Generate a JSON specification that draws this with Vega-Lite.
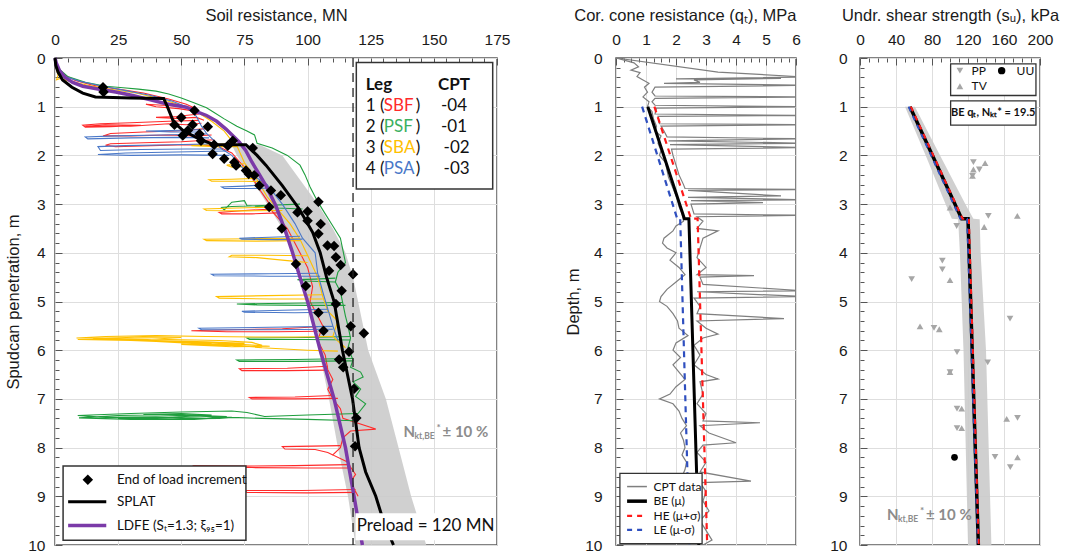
{
"$schema": "https://vega.github.io/schema/vega-lite/v6.json",
"padding": {"left": 5, "top": 6, "right": 5, "bottom": 5},
"config": {
  "view": {"stroke": "#5a5a5a", "strokeWidth": 1.5},
  "font": "Liberation Sans",
  "axis": {"labelFont": "Liberation Sans", "titleFont": "Liberation Sans", "labelFontSize": 15.5, "titleFontSize": 16.5, "titleFontWeight": "normal", "labelColor": "#1a1a1a", "titleColor": "#1a1a1a", "domain": false, "gridColor": "#dedede", "tickColor": "#555555", "labelFlush": false, "labelOverlap": false, "tickCount": 1000}
},
"resolve": {"scale": {"color": "independent", "shape": "independent"}},
"datasets": {
  "traces": [
    {"l":"SBF","s":"R0","x":0,"d":0},{"l":"SBF","s":"R0","x":1,"d":0.2},{"l":"SBF","s":"R0","x":3,"d":0.33},{"l":"SBF","s":"R0","x":8,"d":0.46},{"l":"SBF","s":"R0","x":15,"d":0.56},{"l":"SBF","s":"R0","x":25,"d":0.64},{"l":"SBF","s":"R0","x":35,"d":0.72},{"l":"SBF","s":"R0","x":45,"d":0.84},{"l":"SBF","s":"R0","x":52,"d":0.95},{"l":"SBF","s":"R0","x":55,"d":1.02},
    {"l":"SBF","s":"R1","x":55,"d":1.02},{"l":"SBF","s":"R1","x":46,"d":0.98},{"l":"SBF","s":"R1","x":36,"d":0.95},{"l":"SBF","s":"R1","x":40,"d":1.0},{"l":"SBF","s":"R1","x":49,"d":1.04},{"l":"SBF","s":"R1","x":54,"d":1.08},{"l":"SBF","s":"R1","x":57,"d":1.12},
    {"l":"SBF","s":"R2","x":57,"d":1.15},{"l":"SBF","s":"R2","x":48,"d":1.2},{"l":"SBF","s":"R2","x":40,"d":1.22},{"l":"SBF","s":"R2","x":48,"d":1.24},{"l":"SBF","s":"R2","x":56,"d":1.22},{"l":"SBF","s":"R2","x":59,"d":1.28},
    {"l":"SBF","s":"R3","x":57,"d":1.28},{"l":"SBF","s":"R3","x":45,"d":1.3},{"l":"SBF","s":"R3","x":30,"d":1.33},{"l":"SBF","s":"R3","x":18,"d":1.35},{"l":"SBF","s":"R3","x":11,"d":1.38},{"l":"SBF","s":"R3","x":12,"d":1.42},{"l":"SBF","s":"R3","x":22,"d":1.41},{"l":"SBF","s":"R3","x":34,"d":1.38},{"l":"SBF","s":"R3","x":20,"d":1.37},{"l":"SBF","s":"R3","x":12,"d":1.4},{"l":"SBF","s":"R3","x":30,"d":1.4},{"l":"SBF","s":"R3","x":45,"d":1.35},{"l":"SBF","s":"R3","x":52,"d":1.37},{"l":"SBF","s":"R3","x":58,"d":1.34},
    {"l":"SBF","s":"R4","x":60,"d":1.45},{"l":"SBF","s":"R4","x":48,"d":1.5},{"l":"SBF","s":"R4","x":35,"d":1.52},{"l":"SBF","s":"R4","x":22,"d":1.55},{"l":"SBF","s":"R4","x":19,"d":1.6},{"l":"SBF","s":"R4","x":30,"d":1.6},{"l":"SBF","s":"R4","x":45,"d":1.58},{"l":"SBF","s":"R4","x":55,"d":1.6},{"l":"SBF","s":"R4","x":62,"d":1.58},
    {"l":"SBF","s":"R5","x":63,"d":1.68},{"l":"SBF","s":"R5","x":50,"d":1.72},{"l":"SBF","s":"R5","x":35,"d":1.74},{"l":"SBF","s":"R5","x":22,"d":1.76},{"l":"SBF","s":"R5","x":20,"d":1.79},{"l":"SBF","s":"R5","x":24,"d":1.82},{"l":"SBF","s":"R5","x":38,"d":1.8},{"l":"SBF","s":"R5","x":52,"d":1.78},{"l":"SBF","s":"R5","x":64,"d":1.8},
    {"l":"SBF","s":"R6","x":64,"d":1.8},{"l":"SBF","s":"R6","x":70,"d":1.95},{"l":"SBF","s":"R6","x":76,"d":2.3},{"l":"SBF","s":"R6","x":81,"d":2.7},{"l":"SBF","s":"R6","x":85,"d":3.0},{"l":"SBF","s":"R6","x":86,"d":3.15},{"l":"SBF","s":"R6","x":92,"d":3.5},{"l":"SBF","s":"R6","x":96,"d":3.9},{"l":"SBF","s":"R6","x":100,"d":4.3},{"l":"SBF","s":"R6","x":102,"d":4.7},{"l":"SBF","s":"R6","x":101,"d":5.0},{"l":"SBF","s":"R6","x":104,"d":5.3},{"l":"SBF","s":"R6","x":106,"d":5.5},{"l":"SBF","s":"R6","x":104,"d":5.8},{"l":"SBF","s":"R6","x":107,"d":6.1},{"l":"SBF","s":"R6","x":108,"d":6.4},{"l":"SBF","s":"R6","x":110,"d":6.6},{"l":"SBF","s":"R6","x":108,"d":6.8},{"l":"SBF","s":"R6","x":110,"d":7.0},{"l":"SBF","s":"R6","x":113,"d":7.2},{"l":"SBF","s":"R6","x":114,"d":7.4},{"l":"SBF","s":"R6","x":127,"d":7.62},{"l":"SBF","s":"R6","x":117,"d":7.66},{"l":"SBF","s":"R6","x":114,"d":7.8},{"l":"SBF","s":"R6","x":113,"d":8.0},{"l":"SBF","s":"R6","x":110,"d":8.15},{"l":"SBF","s":"R6","x":116,"d":8.3},{"l":"SBF","s":"R6","x":117,"d":8.4},{"l":"SBF","s":"R6","x":119,"d":8.55},{"l":"SBF","s":"R6","x":117,"d":8.7},{"l":"SBF","s":"R6","x":119,"d":8.9},{"l":"SBF","s":"R6","x":120,"d":9.0},
    {"l":"SBF","s":"R7","x":86,"d":3.1},{"l":"SBF","s":"R7","x":75,"d":3.13},{"l":"SBF","s":"R7","x":65,"d":3.17},{"l":"SBF","s":"R7","x":66,"d":3.2},{"l":"SBF","s":"R7","x":78,"d":3.2},{"l":"SBF","s":"R7","x":88,"d":3.18},
    {"l":"SBF","s":"R8","x":104,"d":5.52},{"l":"SBF","s":"R8","x":90,"d":5.56},{"l":"SBF","s":"R8","x":70,"d":5.58},{"l":"SBF","s":"R8","x":54,"d":5.6},{"l":"SBF","s":"R8","x":68,"d":5.62},{"l":"SBF","s":"R8","x":88,"d":5.62},{"l":"SBF","s":"R8","x":104,"d":5.61},
    {"l":"SBF","s":"R9","x":108,"d":6.33},{"l":"SBF","s":"R9","x":92,"d":6.37},{"l":"SBF","s":"R9","x":73,"d":6.38},{"l":"SBF","s":"R9","x":74,"d":6.42},{"l":"SBF","s":"R9","x":92,"d":6.42},{"l":"SBF","s":"R9","x":108,"d":6.41},
    {"l":"SBF","s":"R10","x":110,"d":6.93},{"l":"SBF","s":"R10","x":95,"d":6.96},{"l":"SBF","s":"R10","x":77,"d":6.97},{"l":"SBF","s":"R10","x":78,"d":7.0},{"l":"SBF","s":"R10","x":95,"d":7.0},{"l":"SBF","s":"R10","x":112,"d":6.99},
    {"l":"SBF","s":"R11","x":113,"d":7.96},{"l":"SBF","s":"R11","x":102,"d":7.97},{"l":"SBF","s":"R11","x":90,"d":7.98},{"l":"SBF","s":"R11","x":91,"d":8.03},{"l":"SBF","s":"R11","x":103,"d":8.04},{"l":"SBF","s":"R11","x":108,"d":8.1},{"l":"SBF","s":"R11","x":110,"d":8.15},
    {"l":"SBF","s":"R12","x":116,"d":8.35},{"l":"SBF","s":"R12","x":95,"d":8.37},{"l":"SBF","s":"R12","x":75,"d":8.38},{"l":"SBF","s":"R12","x":55,"d":8.37},{"l":"SBF","s":"R12","x":56,"d":8.4},{"l":"SBF","s":"R12","x":78,"d":8.41},{"l":"SBF","s":"R12","x":100,"d":8.42},{"l":"SBF","s":"R12","x":117,"d":8.42},
    {"l":"SBF","s":"R13","x":119,"d":8.86},{"l":"SBF","s":"R13","x":98,"d":8.88},{"l":"SBF","s":"R13","x":75,"d":8.88},{"l":"SBF","s":"R13","x":76,"d":8.92},{"l":"SBF","s":"R13","x":100,"d":8.93},{"l":"SBF","s":"R13","x":119,"d":8.92},
    {"l":"PSF","s":"G0","x":0,"d":0},{"l":"PSF","s":"G0","x":1.5,"d":0.22},{"l":"PSF","s":"G0","x":5,"d":0.38},{"l":"PSF","s":"G0","x":12,"d":0.5},{"l":"PSF","s":"G0","x":20,"d":0.58},{"l":"PSF","s":"G0","x":27,"d":0.61},{"l":"PSF","s":"G0","x":33,"d":0.64},{"l":"PSF","s":"G0","x":40,"d":0.68},{"l":"PSF","s":"G0","x":45,"d":0.74},{"l":"PSF","s":"G0","x":50,"d":0.82},{"l":"PSF","s":"G0","x":55,"d":0.92},{"l":"PSF","s":"G0","x":60,"d":1.02},{"l":"PSF","s":"G0","x":63,"d":1.12},{"l":"PSF","s":"G0","x":67,"d":1.25},{"l":"PSF","s":"G0","x":72,"d":1.4},{"l":"PSF","s":"G0","x":76,"d":1.5},{"l":"PSF","s":"G0","x":79,"d":1.58},{"l":"PSF","s":"G0","x":80,"d":1.75},{"l":"PSF","s":"G0","x":86,"d":1.85},{"l":"PSF","s":"G0","x":92,"d":2.0},{"l":"PSF","s":"G0","x":97,"d":2.2},{"l":"PSF","s":"G0","x":99,"d":2.4},{"l":"PSF","s":"G0","x":101,"d":2.65},{"l":"PSF","s":"G0","x":104,"d":2.95},{"l":"PSF","s":"G0","x":107,"d":3.2},{"l":"PSF","s":"G0","x":110,"d":3.45},{"l":"PSF","s":"G0","x":113,"d":3.7},{"l":"PSF","s":"G0","x":114,"d":3.95},{"l":"PSF","s":"G0","x":115,"d":4.2},{"l":"PSF","s":"G0","x":112,"d":4.4},{"l":"PSF","s":"G0","x":111,"d":4.6},{"l":"PSF","s":"G0","x":113,"d":4.8},{"l":"PSF","s":"G0","x":114,"d":5.05},{"l":"PSF","s":"G0","x":115,"d":5.3},{"l":"PSF","s":"G0","x":116,"d":5.5},{"l":"PSF","s":"G0","x":117,"d":5.75},{"l":"PSF","s":"G0","x":116,"d":5.95},{"l":"PSF","s":"G0","x":118,"d":6.2},{"l":"PSF","s":"G0","x":117,"d":6.35},{"l":"PSF","s":"G0","x":121,"d":6.45},{"l":"PSF","s":"G0","x":122,"d":6.55},{"l":"PSF","s":"G0","x":118,"d":6.65},{"l":"PSF","s":"G0","x":121,"d":6.8},{"l":"PSF","s":"G0","x":119,"d":6.95},{"l":"PSF","s":"G0","x":123,"d":7.1},{"l":"PSF","s":"G0","x":120,"d":7.3},
    {"l":"PSF","s":"G1","x":97,"d":3.0},{"l":"PSF","s":"G1","x":82,"d":3.03},{"l":"PSF","s":"G1","x":70,"d":3.05},{"l":"PSF","s":"G1","x":66,"d":3.07},{"l":"PSF","s":"G1","x":67,"d":3.12},{"l":"PSF","s":"G1","x":70,"d":2.96},{"l":"PSF","s":"G1","x":75,"d":2.93},{"l":"PSF","s":"G1","x":76,"d":3.03},{"l":"PSF","s":"G1","x":88,"d":3.08},{"l":"PSF","s":"G1","x":98,"d":3.1},
    {"l":"PSF","s":"G2","x":111,"d":4.52},{"l":"PSF","s":"G2","x":103,"d":4.54},{"l":"PSF","s":"G2","x":96,"d":4.55},{"l":"PSF","s":"G2","x":99,"d":4.58},{"l":"PSF","s":"G2","x":111,"d":4.6},
    {"l":"PSF","s":"G3","x":114,"d":5.02},{"l":"PSF","s":"G3","x":100,"d":5.03},{"l":"PSF","s":"G3","x":85,"d":5.04},{"l":"PSF","s":"G3","x":72,"d":5.05},{"l":"PSF","s":"G3","x":80,"d":5.07},{"l":"PSF","s":"G3","x":100,"d":5.08},{"l":"PSF","s":"G3","x":115,"d":5.08},
    {"l":"PSF","s":"G4","x":117,"d":5.72},{"l":"PSF","s":"G4","x":100,"d":5.74},{"l":"PSF","s":"G4","x":76,"d":5.75},{"l":"PSF","s":"G4","x":77,"d":5.78},{"l":"PSF","s":"G4","x":100,"d":5.78},{"l":"PSF","s":"G4","x":117,"d":5.79},
    {"l":"PSF","s":"G5","x":118,"d":6.17},{"l":"PSF","s":"G5","x":95,"d":6.19},{"l":"PSF","s":"G5","x":72,"d":6.2},{"l":"PSF","s":"G5","x":73,"d":6.23},{"l":"PSF","s":"G5","x":95,"d":6.23},{"l":"PSF","s":"G5","x":118,"d":6.22},
    {"l":"PSF","s":"G6","x":120,"d":7.3},{"l":"PSF","s":"G6","x":100,"d":7.33},{"l":"PSF","s":"G6","x":83,"d":7.36},{"l":"PSF","s":"G6","x":76,"d":7.28},{"l":"PSF","s":"G6","x":70,"d":7.25},{"l":"PSF","s":"G6","x":50,"d":7.27},{"l":"PSF","s":"G6","x":30,"d":7.3},{"l":"PSF","s":"G6","x":9,"d":7.34},{"l":"PSF","s":"G6","x":20,"d":7.38},{"l":"PSF","s":"G6","x":40,"d":7.37},{"l":"PSF","s":"G6","x":60,"d":7.4},{"l":"PSF","s":"G6","x":68,"d":7.36},{"l":"PSF","s":"G6","x":48,"d":7.32},{"l":"PSF","s":"G6","x":25,"d":7.34},{"l":"PSF","s":"G6","x":9.5,"d":7.39},{"l":"PSF","s":"G6","x":30,"d":7.42},{"l":"PSF","s":"G6","x":55,"d":7.42},{"l":"PSF","s":"G6","x":70,"d":7.38},{"l":"PSF","s":"G6","x":55,"d":7.35},{"l":"PSF","s":"G6","x":35,"d":7.32},{"l":"PSF","s":"G6","x":50,"d":7.3},{"l":"PSF","s":"G6","x":62,"d":7.33},{"l":"PSF","s":"G6","x":45,"d":7.38},{"l":"PSF","s":"G6","x":25,"d":7.4},{"l":"PSF","s":"G6","x":45,"d":7.41},{"l":"PSF","s":"G6","x":65,"d":7.4},{"l":"PSF","s":"G6","x":70,"d":7.38},{"l":"PSF","s":"G6","x":82,"d":7.4},{"l":"PSF","s":"G6","x":100,"d":7.42},{"l":"PSF","s":"G6","x":119,"d":7.45},
    {"l":"SBA","s":"Y0","x":0,"d":0},{"l":"SBA","s":"Y0","x":0.5,"d":0.22},{"l":"SBA","s":"Y0","x":1.2,"d":0.35},{"l":"SBA","s":"Y0","x":0.6,"d":0.45},{"l":"SBA","s":"Y0","x":2,"d":0.42},{"l":"SBA","s":"Y0","x":6,"d":0.48},{"l":"SBA","s":"Y0","x":13,"d":0.56},{"l":"SBA","s":"Y0","x":22,"d":0.64},{"l":"SBA","s":"Y0","x":32,"d":0.72},{"l":"SBA","s":"Y0","x":42,"d":0.84},{"l":"SBA","s":"Y0","x":50,"d":0.97},{"l":"SBA","s":"Y0","x":56,"d":1.1},{"l":"SBA","s":"Y0","x":62,"d":1.3},{"l":"SBA","s":"Y0","x":67,"d":1.5},{"l":"SBA","s":"Y0","x":70,"d":1.7},{"l":"SBA","s":"Y0","x":72,"d":1.8},{"l":"SBA","s":"Y0","x":75,"d":2.15},{"l":"SBA","s":"Y0","x":80,"d":2.5},{"l":"SBA","s":"Y0","x":84,"d":2.85},{"l":"SBA","s":"Y0","x":88,"d":3.1},{"l":"SBA","s":"Y0","x":93,"d":3.4},{"l":"SBA","s":"Y0","x":97,"d":3.72},{"l":"SBA","s":"Y0","x":100,"d":4.05},{"l":"SBA","s":"Y0","x":104,"d":4.5},{"l":"SBA","s":"Y0","x":106,"d":4.9},{"l":"SBA","s":"Y0","x":108,"d":5.2},{"l":"SBA","s":"Y0","x":112,"d":5.4},{"l":"SBA","s":"Y0","x":110,"d":5.72},{"l":"SBA","s":"Y0","x":115,"d":5.95},
    {"l":"SBA","s":"Y1","x":70,"d":1.76},{"l":"SBA","s":"Y1","x":60,"d":1.78},{"l":"SBA","s":"Y1","x":54,"d":1.8},{"l":"SBA","s":"Y1","x":64,"d":1.82},{"l":"SBA","s":"Y1","x":72,"d":1.82},
    {"l":"SBA","s":"Y2","x":75,"d":2.17},{"l":"SBA","s":"Y2","x":68,"d":2.2},{"l":"SBA","s":"Y2","x":70,"d":2.24},{"l":"SBA","s":"Y2","x":76,"d":2.23},
    {"l":"SBA","s":"Y3","x":80,"d":2.47},{"l":"SBA","s":"Y3","x":70,"d":2.49},{"l":"SBA","s":"Y3","x":61,"d":2.5},{"l":"SBA","s":"Y3","x":62,"d":2.53},{"l":"SBA","s":"Y3","x":74,"d":2.53},{"l":"SBA","s":"Y3","x":82,"d":2.54},
    {"l":"SBA","s":"Y4","x":88,"d":3.06},{"l":"SBA","s":"Y4","x":72,"d":3.08},{"l":"SBA","s":"Y4","x":59,"d":3.1},{"l":"SBA","s":"Y4","x":60,"d":3.13},{"l":"SBA","s":"Y4","x":75,"d":3.14},{"l":"SBA","s":"Y4","x":90,"d":3.13},
    {"l":"SBA","s":"Y5","x":97,"d":3.7},{"l":"SBA","s":"Y5","x":78,"d":3.71},{"l":"SBA","s":"Y5","x":59,"d":3.72},{"l":"SBA","s":"Y5","x":60,"d":3.75},{"l":"SBA","s":"Y5","x":80,"d":3.76},{"l":"SBA","s":"Y5","x":97,"d":3.75},
    {"l":"SBA","s":"Y6","x":100,"d":4.06},{"l":"SBA","s":"Y6","x":84,"d":4.05},{"l":"SBA","s":"Y6","x":70,"d":4.05},{"l":"SBA","s":"Y6","x":69,"d":4.08},{"l":"SBA","s":"Y6","x":80,"d":4.1},{"l":"SBA","s":"Y6","x":92,"d":4.16},{"l":"SBA","s":"Y6","x":100,"d":4.2},
    {"l":"SBA","s":"Y7","x":106,"d":4.86},{"l":"SBA","s":"Y7","x":84,"d":4.88},{"l":"SBA","s":"Y7","x":64,"d":4.9},{"l":"SBA","s":"Y7","x":65,"d":4.93},{"l":"SBA","s":"Y7","x":85,"d":4.95},{"l":"SBA","s":"Y7","x":106,"d":4.95},
    {"l":"SBA","s":"Y8","x":110,"d":5.72},{"l":"SBA","s":"Y8","x":95,"d":5.73},{"l":"SBA","s":"Y8","x":80,"d":5.73},{"l":"SBA","s":"Y8","x":60,"d":5.72},{"l":"SBA","s":"Y8","x":40,"d":5.7},{"l":"SBA","s":"Y8","x":20,"d":5.72},{"l":"SBA","s":"Y8","x":8.5,"d":5.75},{"l":"SBA","s":"Y8","x":25,"d":5.76},{"l":"SBA","s":"Y8","x":45,"d":5.78},{"l":"SBA","s":"Y8","x":65,"d":5.8},{"l":"SBA","s":"Y8","x":78,"d":5.84},{"l":"SBA","s":"Y8","x":82,"d":5.9},{"l":"SBA","s":"Y8","x":62,"d":5.88},{"l":"SBA","s":"Y8","x":40,"d":5.82},{"l":"SBA","s":"Y8","x":20,"d":5.78},{"l":"SBA","s":"Y8","x":9,"d":5.78},{"l":"SBA","s":"Y8","x":30,"d":5.8},{"l":"SBA","s":"Y8","x":50,"d":5.74},{"l":"SBA","s":"Y8","x":35,"d":5.73},{"l":"SBA","s":"Y8","x":15,"d":5.76},{"l":"SBA","s":"Y8","x":40,"d":5.8},{"l":"SBA","s":"Y8","x":60,"d":5.83},{"l":"SBA","s":"Y8","x":75,"d":5.86},{"l":"SBA","s":"Y8","x":50,"d":5.84},{"l":"SBA","s":"Y8","x":30,"d":5.8},{"l":"SBA","s":"Y8","x":45,"d":5.82},{"l":"SBA","s":"Y8","x":70,"d":5.87},{"l":"SBA","s":"Y8","x":85,"d":5.92},{"l":"SBA","s":"Y8","x":70,"d":5.93},{"l":"SBA","s":"Y8","x":50,"d":5.88},{"l":"SBA","s":"Y8","x":70,"d":5.9},{"l":"SBA","s":"Y8","x":82,"d":5.95},{"l":"SBA","s":"Y8","x":100,"d":6.0},{"l":"SBA","s":"Y8","x":112,"d":6.02},
    {"l":"PSA","s":"B0","x":0,"d":0},{"l":"PSA","s":"B0","x":1,"d":0.24},{"l":"PSA","s":"B0","x":4,"d":0.38},{"l":"PSA","s":"B0","x":10,"d":0.48},{"l":"PSA","s":"B0","x":18,"d":0.57},{"l":"PSA","s":"B0","x":28,"d":0.67},{"l":"PSA","s":"B0","x":38,"d":0.77},{"l":"PSA","s":"B0","x":46,"d":0.88},{"l":"PSA","s":"B0","x":52,"d":1.0},{"l":"PSA","s":"B0","x":56,"d":1.2},{"l":"PSA","s":"B0","x":58,"d":1.4},{"l":"PSA","s":"B0","x":60,"d":1.55},{"l":"PSA","s":"B0","x":64,"d":1.75},{"l":"PSA","s":"B0","x":66,"d":1.87},{"l":"PSA","s":"B0","x":70,"d":2.0},{"l":"PSA","s":"B0","x":75,"d":2.3},{"l":"PSA","s":"B0","x":84,"d":2.6},{"l":"PSA","s":"B0","x":90,"d":3.0},{"l":"PSA","s":"B0","x":95,"d":3.4},{"l":"PSA","s":"B0","x":98,"d":3.7},{"l":"PSA","s":"B0","x":103,"d":4.0},{"l":"PSA","s":"B0","x":104,"d":4.42},{"l":"PSA","s":"B0","x":106,"d":4.8},{"l":"PSA","s":"B0","x":108,"d":5.15},{"l":"PSA","s":"B0","x":110,"d":5.5},{"l":"PSA","s":"B0","x":112,"d":5.8},
    {"l":"PSA","s":"B1","x":58,"d":1.47},{"l":"PSA","s":"B1","x":46,"d":1.49},{"l":"PSA","s":"B1","x":36,"d":1.5},{"l":"PSA","s":"B1","x":46,"d":1.52},{"l":"PSA","s":"B1","x":58,"d":1.52},
    {"l":"PSA","s":"B2","x":60,"d":1.56},{"l":"PSA","s":"B2","x":42,"d":1.58},{"l":"PSA","s":"B2","x":24,"d":1.6},{"l":"PSA","s":"B2","x":12,"d":1.62},{"l":"PSA","s":"B2","x":13,"d":1.66},{"l":"PSA","s":"B2","x":30,"d":1.64},{"l":"PSA","s":"B2","x":48,"d":1.63},{"l":"PSA","s":"B2","x":61,"d":1.64},
    {"l":"PSA","s":"B3","x":64,"d":1.76},{"l":"PSA","s":"B3","x":46,"d":1.78},{"l":"PSA","s":"B3","x":28,"d":1.8},{"l":"PSA","s":"B3","x":17,"d":1.82},{"l":"PSA","s":"B3","x":18,"d":1.9},{"l":"PSA","s":"B3","x":34,"d":1.88},{"l":"PSA","s":"B3","x":52,"d":1.87},{"l":"PSA","s":"B3","x":66,"d":1.87},
    {"l":"PSA","s":"B4","x":68,"d":1.91},{"l":"PSA","s":"B4","x":48,"d":1.93},{"l":"PSA","s":"B4","x":28,"d":1.95},{"l":"PSA","s":"B4","x":17,"d":1.98},{"l":"PSA","s":"B4","x":30,"d":2.0},{"l":"PSA","s":"B4","x":50,"d":1.99},{"l":"PSA","s":"B4","x":69,"d":2.0},
    {"l":"PSA","s":"B5","x":84,"d":2.6},{"l":"PSA","s":"B5","x":75,"d":2.63},{"l":"PSA","s":"B5","x":66,"d":2.65},{"l":"PSA","s":"B5","x":67,"d":2.68},{"l":"PSA","s":"B5","x":78,"d":2.68},{"l":"PSA","s":"B5","x":86,"d":2.67},
    {"l":"PSA","s":"B6","x":97,"d":3.66},{"l":"PSA","s":"B6","x":85,"d":3.68},{"l":"PSA","s":"B6","x":73,"d":3.7},{"l":"PSA","s":"B6","x":74,"d":3.72},{"l":"PSA","s":"B6","x":88,"d":3.73},{"l":"PSA","s":"B6","x":98,"d":3.72},
    {"l":"PSA","s":"B7","x":104,"d":4.42},{"l":"PSA","s":"B7","x":85,"d":4.43},{"l":"PSA","s":"B7","x":62,"d":4.44},{"l":"PSA","s":"B7","x":63,"d":4.47},{"l":"PSA","s":"B7","x":85,"d":4.48},{"l":"PSA","s":"B7","x":105,"d":4.48},
    {"l":"PSA","s":"B8","x":108,"d":5.16},{"l":"PSA","s":"B8","x":90,"d":5.18},{"l":"PSA","s":"B8","x":74,"d":5.2},{"l":"PSA","s":"B8","x":75,"d":5.22},{"l":"PSA","s":"B8","x":95,"d":5.23},{"l":"PSA","s":"B8","x":108,"d":5.22},
    {"l":"PSA","s":"B9","x":110,"d":5.51},{"l":"PSA","s":"B9","x":85,"d":5.53},{"l":"PSA","s":"B9","x":57,"d":5.55},{"l":"PSA","s":"B9","x":58,"d":5.58},{"l":"PSA","s":"B9","x":85,"d":5.58},{"l":"PSA","s":"B9","x":110,"d":5.57}
  ],
  "band": [
    {"d":1.78,"x":70,"x2":81},{"d":2.0,"x":72,"x2":90},{"d":2.5,"x":78,"x2":97},{"d":3.0,"x":84,"x2":104},{"d":3.5,"x":90,"x2":110},{"d":4.0,"x":94,"x2":115},{"d":4.5,"x":98,"x2":118},{"d":5.0,"x":100.5,"x2":120},{"d":6.0,"x":104.5,"x2":124},{"d":7.0,"x":108.5,"x2":131},{"d":8.0,"x":112,"x2":136},{"d":9.0,"x":116,"x2":141},{"d":10.0,"x":119,"x2":147}
  ],
  "splat": [
    {"x":0,"d":0},{"x":0.3,"d":0.15},{"x":1.2,"d":0.29},{"x":3,"d":0.45},{"x":6.7,"d":0.6},{"x":11,"d":0.72},{"x":16,"d":0.8},{"x":30,"d":0.82},{"x":43,"d":0.83},{"x":44.5,"d":1.0},{"x":47,"d":1.32},{"x":51,"d":1.5},{"x":57,"d":1.66},{"x":63,"d":1.78},{"x":75.6,"d":1.78},{"x":80,"d":2.0},{"x":83.5,"d":2.2},{"x":90,"d":2.62},{"x":96.7,"d":3.1},{"x":102,"d":3.58},{"x":105,"d":4.0},{"x":107.5,"d":4.5},{"x":110.5,"d":5.0},{"x":113.8,"d":6.0},{"x":117.8,"d":7.0},{"x":120.4,"d":8.0},{"x":123,"d":8.5},{"x":127,"d":9.0},{"x":130,"d":9.5},{"x":134,"d":10}
  ],
  "ldfe": [
    {"x":0,"d":0},{"x":0.5,"d":0.1},{"x":1.8,"d":0.26},{"x":4,"d":0.4},{"x":7,"d":0.5},{"x":11,"d":0.58},{"x":17.6,"d":0.64},{"x":24,"d":0.7},{"x":30.8,"d":0.77},{"x":37,"d":0.85},{"x":44,"d":0.94},{"x":52,"d":1.01},{"x":56,"d":1.1},{"x":60,"d":1.18},{"x":64,"d":1.3},{"x":67.7,"d":1.46},{"x":70.5,"d":1.6},{"x":73,"d":1.73},{"x":75.5,"d":1.9},{"x":78,"d":2.14},{"x":81,"d":2.4},{"x":83.5,"d":2.62},{"x":87.4,"d":3.03},{"x":91.4,"d":3.58},{"x":94,"d":3.99},{"x":97,"d":4.5},{"x":100,"d":5},{"x":105,"d":6},{"x":110.5,"d":7},{"x":115,"d":8},{"x":118.4,"d":9},{"x":121.7,"d":10}
  ],
  "eol": [
    {"x":19,"d":0.6},{"x":19.2,"d":0.7},{"x":55.2,"d":1.08},{"x":50,"d":1.22},{"x":47.3,"d":1.37},{"x":54.5,"d":1.37},{"x":60.5,"d":1.41},{"x":52.6,"d":1.49},{"x":57.2,"d":1.56},{"x":50.6,"d":1.59},{"x":57.8,"d":1.7},{"x":63,"d":1.78},{"x":68.4,"d":1.8},{"x":70.4,"d":1.7},{"x":78.3,"d":1.85},{"x":62.4,"d":1.97},{"x":67,"d":2.07},{"x":71,"d":2.14},{"x":71.7,"d":2.21},{"x":75.6,"d":2.31},{"x":76.7,"d":2.38},{"x":78.9,"d":2.41},{"x":80.9,"d":2.62},{"x":85.5,"d":2.72},{"x":89.4,"d":2.82},{"x":104.3,"d":2.95},{"x":84.8,"d":3.06},{"x":96,"d":3.17},{"x":100,"d":3.15},{"x":100,"d":3.34},{"x":89.8,"d":3.5},{"x":105.2,"d":3.41},{"x":104.3,"d":3.61},{"x":107.9,"d":3.85},{"x":110.5,"d":3.86},{"x":111.2,"d":4.09},{"x":113.1,"d":4.25},{"x":95.4,"d":4.23},{"x":108.5,"d":4.37},{"x":118,"d":4.44},{"x":99.3,"d":4.68},{"x":113.5,"d":4.78},{"x":111.2,"d":5.05},{"x":104.3,"d":5.23},{"x":117.1,"d":5.51},{"x":122.3,"d":5.65},{"x":106.3,"d":5.6},{"x":116.4,"d":6.03},{"x":112.5,"d":6.19},{"x":114.1,"d":6.35},{"x":118.4,"d":6.79},{"x":119.3,"d":7.39},{"x":118.8,"d":7.97}
  ],
  "cpt": [
    {"p":"A","x":0,"d":0},{"p":"A","x":0.3,"d":0.05},{"p":"A","x":0.6,"d":0.1},{"p":"A","x":0.75,"d":0.18},{"p":"A","x":0.5,"d":0.25},{"p":"A","x":0.8,"d":0.3},{"p":"A","x":0.7,"d":0.38},{"p":"A","x":0.9,"d":0.45},{"p":"A","x":1.1,"d":0.52},{"p":"A","x":0.95,"d":0.6},{"p":"A","x":1.05,"d":0.7},{"p":"A","x":0.9,"d":0.8},{"p":"A","x":1.1,"d":0.9},{"p":"A","x":1.05,"d":1.0},{"p":"A","x":1.2,"d":1.1},{"p":"A","x":1.25,"d":1.25},{"p":"A","x":1.35,"d":1.4},{"p":"A","x":1.3,"d":1.5},{"p":"A","x":1.5,"d":1.6},{"p":"A","x":1.4,"d":1.75},{"p":"A","x":1.5,"d":1.9},{"p":"A","x":1.45,"d":2.0},{"p":"A","x":1.65,"d":2.15},{"p":"A","x":1.7,"d":2.3},{"p":"A","x":1.75,"d":2.45},{"p":"A","x":1.85,"d":2.6},{"p":"A","x":1.95,"d":2.75},{"p":"A","x":2.05,"d":2.9},{"p":"A","x":2.1,"d":3.05},{"p":"A","x":2.2,"d":3.2},{"p":"A","x":2.25,"d":3.35},{"p":"A","x":2.0,"d":3.45},{"p":"A","x":1.9,"d":3.55},{"p":"A","x":1.6,"d":3.7},{"p":"A","x":1.55,"d":3.8},{"p":"A","x":1.7,"d":3.9},{"p":"A","x":2.0,"d":4.0},{"p":"A","x":1.8,"d":4.15},{"p":"A","x":2.1,"d":4.3},{"p":"A","x":2.3,"d":4.45},{"p":"A","x":2.0,"d":4.6},{"p":"A","x":1.7,"d":4.75},{"p":"A","x":1.5,"d":4.9},{"p":"A","x":1.45,"d":5.0},{"p":"A","x":1.7,"d":5.1},{"p":"A","x":1.9,"d":5.25},{"p":"A","x":2.05,"d":5.4},{"p":"A","x":2.1,"d":5.55},{"p":"A","x":2.4,"d":5.7},{"p":"A","x":2.0,"d":5.85},{"p":"A","x":1.9,"d":6.0},{"p":"A","x":2.15,"d":6.15},{"p":"A","x":1.9,"d":6.3},{"p":"A","x":2.1,"d":6.45},{"p":"A","x":2.3,"d":6.6},{"p":"A","x":2.0,"d":6.75},{"p":"A","x":1.8,"d":6.9},{"p":"A","x":1.45,"d":7.0},{"p":"A","x":1.9,"d":7.1},{"p":"A","x":2.1,"d":7.25},{"p":"A","x":2.2,"d":7.4},{"p":"A","x":2.35,"d":7.55},{"p":"A","x":2.15,"d":7.7},{"p":"A","x":2.25,"d":7.85},{"p":"A","x":2.3,"d":8.0},{"p":"A","x":2.2,"d":8.15},{"p":"A","x":2.35,"d":8.3},{"p":"A","x":2.3,"d":8.45},{"p":"A","x":2.2,"d":8.6},{"p":"A","x":2.35,"d":8.75},{"p":"A","x":2.4,"d":8.9},{"p":"A","x":2.3,"d":9.05},{"p":"A","x":2.5,"d":9.2},{"p":"A","x":2.45,"d":9.35},{"p":"A","x":2.6,"d":9.5},{"p":"A","x":2.5,"d":9.65},{"p":"A","x":2.55,"d":9.8},{"p":"A","x":2.7,"d":9.95},
    {"p":"B","x":0,"d":0},{"p":"B","x":3.4,"d":0.29},{"p":"B","x":6.3,"d":0.39},{"p":"B","x":2.0,"d":0.43},{"p":"B","x":5.5,"d":0.42},{"p":"B","x":2.6,"d":0.45},{"p":"B","x":2.8,"d":0.5},{"p":"B","x":1.6,"d":0.52},{"p":"B","x":6.3,"d":0.56},{"p":"B","x":1.3,"d":0.6},{"p":"B","x":1.2,"d":0.7},{"p":"B","x":1.3,"d":0.78},{"p":"B","x":6.3,"d":0.8},{"p":"B","x":1.3,"d":0.83},{"p":"B","x":1.2,"d":0.9},{"p":"B","x":1.3,"d":0.97},{"p":"B","x":6.3,"d":1.0},{"p":"B","x":1.35,"d":1.03},{"p":"B","x":1.3,"d":1.15},{"p":"B","x":6.3,"d":1.18},{"p":"B","x":1.4,"d":1.2},{"p":"B","x":1.45,"d":1.35},{"p":"B","x":6.3,"d":1.37},{"p":"B","x":1.5,"d":1.4},{"p":"B","x":1.6,"d":1.5},{"p":"B","x":1.7,"d":1.62},{"p":"B","x":6.3,"d":1.66},{"p":"B","x":1.75,"d":1.7},{"p":"B","x":6.3,"d":1.75},{"p":"B","x":1.8,"d":1.78},{"p":"B","x":6.3,"d":1.84},{"p":"B","x":1.85,"d":1.87},{"p":"B","x":1.9,"d":2.0},{"p":"B","x":2.0,"d":2.2},{"p":"B","x":2.1,"d":2.4},{"p":"B","x":2.25,"d":2.6},{"p":"B","x":2.3,"d":2.68},{"p":"B","x":6.3,"d":2.7},{"p":"B","x":2.4,"d":2.72},{"p":"B","x":5.5,"d":2.83},{"p":"B","x":2.4,"d":2.86},{"p":"B","x":6.3,"d":2.91},{"p":"B","x":2.5,"d":2.93},{"p":"B","x":4.9,"d":2.97},{"p":"B","x":2.5,"d":3.0},{"p":"B","x":2.6,"d":3.2},{"p":"B","x":6.3,"d":3.23},{"p":"B","x":2.7,"d":3.26},{"p":"B","x":2.9,"d":3.35},{"p":"B","x":2.7,"d":3.5},{"p":"B","x":3.4,"d":3.55},{"p":"B","x":2.9,"d":3.7},{"p":"B","x":2.8,"d":3.9},{"p":"B","x":2.7,"d":4.1},{"p":"B","x":3.0,"d":4.3},{"p":"B","x":2.7,"d":4.45},{"p":"B","x":4.6,"d":4.47},{"p":"B","x":2.8,"d":4.5},{"p":"B","x":2.9,"d":4.65},{"p":"B","x":6.3,"d":4.78},{"p":"B","x":2.7,"d":4.8},{"p":"B","x":6.3,"d":4.9},{"p":"B","x":2.6,"d":4.93},{"p":"B","x":2.8,"d":5.1},{"p":"B","x":2.7,"d":5.25},{"p":"B","x":5.6,"d":5.35},{"p":"B","x":2.7,"d":5.4},{"p":"B","x":3.0,"d":5.55},{"p":"B","x":3.4,"d":5.67},{"p":"B","x":2.9,"d":5.75},{"p":"B","x":2.6,"d":5.9},{"p":"B","x":2.8,"d":6.1},{"p":"B","x":2.6,"d":6.3},{"p":"B","x":3.0,"d":6.5},{"p":"B","x":3.4,"d":6.59},{"p":"B","x":2.8,"d":6.65},{"p":"B","x":2.9,"d":6.9},{"p":"B","x":2.7,"d":7.1},{"p":"B","x":3.0,"d":7.3},{"p":"B","x":2.9,"d":7.45},{"p":"B","x":4.8,"d":7.49},{"p":"B","x":2.8,"d":7.55},{"p":"B","x":3.1,"d":7.7},{"p":"B","x":4.0,"d":7.9},{"p":"B","x":2.9,"d":7.95},{"p":"B","x":2.7,"d":8.1},{"p":"B","x":3.0,"d":8.3},{"p":"B","x":2.8,"d":8.5},{"p":"B","x":4.5,"d":8.69},{"p":"B","x":2.8,"d":8.72},{"p":"B","x":3.0,"d":8.9},{"p":"B","x":2.9,"d":9.1},{"p":"B","x":3.1,"d":9.3},{"p":"B","x":2.8,"d":9.5},{"p":"B","x":3.0,"d":9.7},{"p":"B","x":3.2,"d":9.9},{"p":"B","x":2.9,"d":10}
  ],
  "qt": [
    {"c":"BE","x":1.06,"d":1.0},{"c":"BE","x":2.28,"d":3.3},{"c":"BE","x":2.43,"d":3.3},{"c":"BE","x":2.76,"d":10},
    {"c":"HE","x":1.28,"d":1.0},{"c":"HE","x":2.5,"d":3.3},{"c":"HE","x":2.72,"d":3.3},{"c":"HE","x":3.04,"d":10},
    {"c":"LE","x":0.87,"d":1.0},{"c":"LE","x":2.04,"d":3.3},{"c":"LE","x":2.14,"d":3.3},{"c":"LE","x":2.45,"d":10}
  ],
  "su": [
    {"c":"BE","x":55.5,"d":1.0},{"c":"BE","x":113,"d":3.3},{"c":"BE","x":120,"d":3.3},{"c":"BE","x":131.5,"d":10},
    {"c":"HE","x":56.5,"d":1.0},{"c":"HE","x":114,"d":3.3},{"c":"HE","x":121,"d":3.3},{"c":"HE","x":132,"d":10},
    {"c":"LE","x":54,"d":1.0},{"c":"LE","x":111.5,"d":3.3},{"c":"LE","x":119,"d":3.3},{"c":"LE","x":131,"d":10}
  ],
  "suband": [
    {"d":1.0,"x":50,"x2":61},{"d":2.0,"x":73,"x2":89},{"d":3.0,"x":95,"x2":117},{"d":3.3,"x":102,"x2":126},{"d":3.31,"x":109,"x2":133},{"d":4.0,"x":111,"x2":134},{"d":6.0,"x":115,"x2":140},{"d":10.0,"x":120,"x2":146}
  ],
  "lab": [
    {"t":"TV","x":139,"d":2.16},{"t":"PP","x":126,"d":2.14},{"t":"TV","x":126,"d":2.29},{"t":"PP","x":132.6,"d":2.29},{"t":"PP","x":125,"d":2.42},{"t":"TV","x":125,"d":2.42},{"t":"TV","x":100,"d":3.07},{"t":"PP","x":142.6,"d":3.24},{"t":"TV","x":174.8,"d":3.24},{"t":"TV","x":138,"d":3.47},{"t":"PP","x":107.4,"d":3.45},{"t":"PP","x":91.5,"d":4.16},{"t":"PP","x":91.5,"d":4.34},{"t":"PP","x":57.4,"d":4.54},{"t":"TV","x":100,"d":4.56},{"t":"PP","x":166.7,"d":5.35},{"t":"TV","x":66.7,"d":5.51},{"t":"PP","x":82.2,"d":5.54},{"t":"TV","x":88.1,"d":5.57},{"t":"PP","x":107.8,"d":6.04},{"t":"PP","x":141.9,"d":6.25},{"t":"PP","x":100,"d":6.45},{"t":"TV","x":100,"d":6.45},{"t":"PP","x":107.8,"d":7.2},{"t":"TV","x":113,"d":7.2},{"t":"TV","x":163,"d":7.41},{"t":"PP","x":175,"d":7.39},{"t":"PP","x":107.8,"d":7.6},{"t":"TV","x":113,"d":7.6},{"t":"PP","x":150,"d":8.19},{"t":"TV","x":175,"d":8.2},{"t":"PP","x":167,"d":8.4},{"t":"UU","x":105,"d":8.2}
  ]
},
"spacing": 54,
"hconcat": [
  {
    "width": 442, "height": 487,
    "layer": [
      {"data": {"name": "band"}, "mark": {"type": "area", "orient": "horizontal", "color": "#cbcbcb", "opacity": 0.9},
       "encoding": {
        "x": {"field": "x", "type": "quantitative", "title": "Soil resistance, MN", "scale": {"domain": [0, 175], "nice": false, "zero": false},
          "axis": {"orient": "top", "labelOverlap": false, "tickCount": 1000, "values": [0,5,10,15,20,25,30,35,40,45,50,55,60,65,70,75,80,85,90,95,100,105,110,115,120,125,130,135,140,145,150,155,160,165,170,175],
            "labelExpr": "datum.value % 25 === 0 ? '' + datum.value : ''",
            "gridOpacity": {"condition": {"test": "datum.value % 25 === 0", "value": 1}, "value": 0},
            "tickSize": {"condition": {"test": "datum.value % 25 === 0", "value": -7}, "value": -4},
            "labelPadding": 18, "titlePadding": 6}},
        "x2": {"field": "x2"},
        "y": {"field": "d", "type": "quantitative", "title": "Spudcan penetration, m", "scale": {"domain": [0, 10], "reverse": true, "nice": false, "zero": false},
          "axis": {"labelOverlap": false, "tickCount": 1000, "values": [0,0.2,0.4,0.6,0.8,1,1.2,1.4,1.6,1.8,2,2.2,2.4,2.6,2.8,3,3.2,3.4,3.6,3.8,4,4.2,4.4,4.6,4.8,5,5.2,5.4,5.6,5.8,6,6.2,6.4,6.6,6.8,7,7.2,7.4,7.6,7.8,8,8.2,8.4,8.6,8.8,9,9.2,9.4,9.6,9.8,10],
            "labelExpr": "datum.value % 1 === 0 ? '' + datum.value : ''",
            "gridOpacity": {"condition": {"test": "datum.value % 1 === 0", "value": 1}, "value": 0},
            "tickSize": {"condition": {"test": "datum.value % 1 === 0", "value": -7}, "value": -4},
            "labelPadding": 17, "titlePadding": 6}}}},
      {"data": {"name": "traces"}, "transform": [{"window": [{"op": "row_number", "as": "i"}]}],
       "mark": {"type": "line", "strokeWidth": 1.1, "clip": true},
       "encoding": {
         "x": {"field": "x", "type": "quantitative", "title": "Soil resistance, MN", "scale": {"domain": [0, 175], "nice": false, "zero": false}},
         "y": {"field": "d", "type": "quantitative", "title": "Spudcan penetration, m", "scale": {"domain": [0, 10], "reverse": true, "nice": false, "zero": false}},
         "detail": {"field": "s"}, "order": {"field": "i", "type": "quantitative"},
         "color": {"field": "l", "type": "nominal", "legend": null, "scale": {"domain": ["SBF", "PSF", "SBA", "PSA"], "range": ["#ff2a2a", "#1f9e3e", "#ffc000", "#4a78c8"]}}}},
      {"data": {"name": "ldfe"}, "transform": [{"window": [{"op": "row_number", "as": "i"}]}], "mark": {"type": "line", "color": "#7b3aa8", "strokeWidth": 3.5},
       "encoding": {
         "x": {"field": "x", "type": "quantitative", "title": "Soil resistance, MN", "scale": {"domain": [0, 175], "nice": false, "zero": false}},
         "y": {"field": "d", "type": "quantitative", "title": "Spudcan penetration, m", "scale": {"domain": [0, 10], "reverse": true, "nice": false, "zero": false}},
         "order": {"field": "i", "type": "quantitative"}}},
      {"data": {"name": "splat"}, "transform": [{"window": [{"op": "row_number", "as": "i"}]}], "mark": {"type": "line", "color": "#000000", "strokeWidth": 3},
       "encoding": {
         "x": {"field": "x", "type": "quantitative", "title": "Soil resistance, MN", "scale": {"domain": [0, 175], "nice": false, "zero": false}},
         "y": {"field": "d", "type": "quantitative", "title": "Spudcan penetration, m", "scale": {"domain": [0, 10], "reverse": true, "nice": false, "zero": false}},
         "order": {"field": "i", "type": "quantitative"}}},
      {"data": {"name": "eol"}, "mark": {"type": "point", "shape": "diamond", "filled": true, "color": "#000000", "opacity": 1, "size": 110},
       "encoding": {
         "x": {"field": "x", "type": "quantitative", "title": "Soil resistance, MN", "scale": {"domain": [0, 175], "nice": false, "zero": false}},
         "y": {"field": "d", "type": "quantitative", "title": "Spudcan penetration, m", "scale": {"domain": [0, 10], "reverse": true, "nice": false, "zero": false}}}},
      {"data": {"values": [{}]}, "mark": {"type": "rule", "color": "#222222", "strokeDash": [9, 6], "strokeWidth": 1.3}, "encoding": {"x": {"datum": 118}}},
      {"data": {"values": [{}]}, "mark": {"type": "rect", "fill": "white", "stroke": "#333333", "strokeWidth": 1.5}, "encoding": {"x": {"datum": 119.3}, "x2": {"datum": 173.3}, "y": {"datum": 0.09}, "y2": {"datum": 2.69}}},
      {"data": {"values": [{}]}, "mark": {"type": "text", "text": "Leg", "font": "Lato", "fontSize": 17, "fontWeight": "bold", "align": "left", "baseline": "middle", "color": "#111"}, "encoding": {"x": {"datum": 123}, "y": {"datum": 0.55}}},
      {"data": {"values": [{}]}, "mark": {"type": "text", "text": "CPT", "font": "Lato", "fontSize": 17, "fontWeight": "bold", "align": "center", "baseline": "middle", "color": "#111"}, "encoding": {"x": {"datum": 158}, "y": {"datum": 0.55}}},
      {"data": {"values": [{}]}, "mark": {"type": "text", "text": "1 (", "font": "Lato", "fontSize": 17, "align": "left", "baseline": "middle", "color": "#111"}, "encoding": {"x": {"datum": 123}, "y": {"datum": 0.98}}},
      {"data": {"values": [{}]}, "mark": {"type": "text", "text": "SBF", "font": "Lato", "fontSize": 17, "align": "left", "baseline": "middle", "color": "#ff2a2a"}, "encoding": {"x": {"datum": 130.2}, "y": {"datum": 0.98}}},
      {"data": {"values": [{}]}, "mark": {"type": "text", "text": ")", "font": "Lato", "fontSize": 17, "align": "left", "baseline": "middle", "color": "#111"}, "encoding": {"x": {"datum": 142.8}, "y": {"datum": 0.98}}},
      {"data": {"values": [{}]}, "mark": {"type": "text", "text": "-04", "font": "Lato", "fontSize": 17, "align": "center", "baseline": "middle", "color": "#111"}, "encoding": {"x": {"datum": 158}, "y": {"datum": 0.98}}},
      {"data": {"values": [{}]}, "mark": {"type": "text", "text": "2 (", "font": "Lato", "fontSize": 17, "align": "left", "baseline": "middle", "color": "#111"}, "encoding": {"x": {"datum": 123}, "y": {"datum": 1.41}}},
      {"data": {"values": [{}]}, "mark": {"type": "text", "text": "PSF", "font": "Lato", "fontSize": 17, "align": "left", "baseline": "middle", "color": "#3cb060"}, "encoding": {"x": {"datum": 130.2}, "y": {"datum": 1.41}}},
      {"data": {"values": [{}]}, "mark": {"type": "text", "text": ")", "font": "Lato", "fontSize": 17, "align": "left", "baseline": "middle", "color": "#111"}, "encoding": {"x": {"datum": 142.8}, "y": {"datum": 1.41}}},
      {"data": {"values": [{}]}, "mark": {"type": "text", "text": "-01", "font": "Lato", "fontSize": 17, "align": "center", "baseline": "middle", "color": "#111"}, "encoding": {"x": {"datum": 158}, "y": {"datum": 1.41}}},
      {"data": {"values": [{}]}, "mark": {"type": "text", "text": "3 (", "font": "Lato", "fontSize": 17, "align": "left", "baseline": "middle", "color": "#111"}, "encoding": {"x": {"datum": 123}, "y": {"datum": 1.84}}},
      {"data": {"values": [{}]}, "mark": {"type": "text", "text": "SBA", "font": "Lato", "fontSize": 17, "align": "left", "baseline": "middle", "color": "#ffc000"}, "encoding": {"x": {"datum": 130.2}, "y": {"datum": 1.84}}},
      {"data": {"values": [{}]}, "mark": {"type": "text", "text": ")", "font": "Lato", "fontSize": 17, "align": "left", "baseline": "middle", "color": "#111"}, "encoding": {"x": {"datum": 142.8}, "y": {"datum": 1.84}}},
      {"data": {"values": [{}]}, "mark": {"type": "text", "text": "-02", "font": "Lato", "fontSize": 17, "align": "center", "baseline": "middle", "color": "#111"}, "encoding": {"x": {"datum": 159}, "y": {"datum": 1.84}}},
      {"data": {"values": [{}]}, "mark": {"type": "text", "text": "4 (", "font": "Lato", "fontSize": 17, "align": "left", "baseline": "middle", "color": "#111"}, "encoding": {"x": {"datum": 123}, "y": {"datum": 2.27}}},
      {"data": {"values": [{}]}, "mark": {"type": "text", "text": "PSA", "font": "Lato", "fontSize": 17, "align": "left", "baseline": "middle", "color": "#4a78c8"}, "encoding": {"x": {"datum": 130.2}, "y": {"datum": 2.27}}},
      {"data": {"values": [{}]}, "mark": {"type": "text", "text": ")", "font": "Lato", "fontSize": 17, "align": "left", "baseline": "middle", "color": "#111"}, "encoding": {"x": {"datum": 142.8}, "y": {"datum": 2.27}}},
      {"data": {"values": [{}]}, "mark": {"type": "text", "text": "-03", "font": "Lato", "fontSize": 17, "align": "center", "baseline": "middle", "color": "#111"}, "encoding": {"x": {"datum": 159}, "y": {"datum": 2.27}}},
      {"data": {"values": [{}]}, "mark": {"type": "text", "text": "N", "font": "Lato", "fontSize": 15, "fontWeight": "bold", "align": "left", "baseline": "middle", "color": "#8c8c8c"}, "encoding": {"x": {"datum": 138}, "y": {"datum": 7.68}}},
      {"data": {"values": [{}]}, "mark": {"type": "text", "text": "kt,BE", "font": "Lato", "fontSize": 8.5, "fontWeight": "bold", "align": "left", "baseline": "middle", "color": "#8c8c8c", "dx": 11, "dy": 4}, "encoding": {"x": {"datum": 138}, "y": {"datum": 7.68}}},
      {"data": {"values": [{}]}, "mark": {"type": "text", "text": "*", "font": "Lato", "fontSize": 10, "fontWeight": "bold", "align": "left", "baseline": "middle", "color": "#8c8c8c", "dx": 33, "dy": -4}, "encoding": {"x": {"datum": 138}, "y": {"datum": 7.68}}},
      {"data": {"values": [{}]}, "mark": {"type": "text", "text": "± 10 %", "font": "Lato", "fontSize": 15, "fontWeight": "bold", "align": "left", "baseline": "middle", "color": "#8c8c8c", "dx": 39}, "encoding": {"x": {"datum": 138}, "y": {"datum": 7.68}}},
      {"data": {"values": [{}]}, "mark": {"type": "rect", "fill": "white"}, "encoding": {"x": {"datum": 119}, "x2": {"datum": 168}, "y": {"datum": 9.35}, "y2": {"datum": 9.9}}},
      {"data": {"values": [{}]}, "mark": {"type": "text", "text": "Preload = 120 MN", "font": "Lato", "fontSize": 17, "align": "left", "baseline": "middle", "color": "#111"}, "encoding": {"x": {"datum": 119.5}, "y": {"datum": 9.62}}},
      {"data": {"values": [{}]}, "mark": {"type": "rect", "fill": "white", "stroke": "#333333", "strokeWidth": 1.5}, "encoding": {"x": {"datum": 3.2}, "x2": {"datum": 75.6}, "y": {"datum": 8.38}, "y2": {"datum": 9.9}}},
      {"data": {"values": [{}]}, "mark": {"type": "point", "shape": "diamond", "filled": true, "color": "#000000", "opacity": 1, "size": 110}, "encoding": {"x": {"datum": 13}, "y": {"datum": 8.66}}},
      {"data": {"values": [{}]}, "mark": {"type": "rule", "color": "#000000", "strokeWidth": 3}, "encoding": {"x": {"datum": 5.2}, "x2": {"datum": 20.3}, "y": {"datum": 9.11}}},
      {"data": {"values": [{}]}, "mark": {"type": "rule", "color": "#7b3aa8", "strokeWidth": 3.5}, "encoding": {"x": {"datum": 5.2}, "x2": {"datum": 20.3}, "y": {"datum": 9.6}}},
      {"data": {"values": [{}]}, "mark": {"type": "text", "text": "End of load increment", "font": "Lato", "fontSize": 13.5, "align": "left", "baseline": "middle", "color": "#111"}, "encoding": {"x": {"datum": 24.5}, "y": {"datum": 8.66}}},
      {"data": {"values": [{}]}, "mark": {"type": "text", "text": "SPLAT", "font": "Lato", "fontSize": 13.5, "align": "left", "baseline": "middle", "color": "#111"}, "encoding": {"x": {"datum": 24.5}, "y": {"datum": 9.11}}},
      {"data": {"values": [{}]}, "mark": {"type": "text", "text": "LDFE (Sₜ=1.3; ξ₉₅=1)", "font": "Lato", "fontSize": 13.5, "align": "left", "baseline": "middle", "color": "#111"}, "encoding": {"x": {"datum": 24.5}, "y": {"datum": 9.6}}}
    ]
  },
  {
    "spacing": 27,
    "resolve": {"scale": {"color": "independent", "shape": "independent"}},
    "hconcat": [
      {
        "width": 180, "height": 487,
        "layer": [
          {"data": {"name": "cpt"}, "transform": [{"window": [{"op": "row_number", "as": "i"}]}], "mark": {"type": "line", "color": "#7f7f7f", "strokeWidth": 1.2, "clip": true},
           "encoding": {
            "x": {"field": "x", "type": "quantitative", "title": "Cor. cone resistance (qₜ), MPa", "scale": {"domain": [0, 6], "nice": false, "zero": false},
              "axis": {"orient": "top", "labelOverlap": false, "tickCount": 1000, "values": [0,0.25,0.5,0.75,1,1.25,1.5,1.75,2,2.25,2.5,2.75,3,3.25,3.5,3.75,4,4.25,4.5,4.75,5,5.25,5.5,5.75,6],
                "labelExpr": "datum.value % 1 === 0 ? '' + datum.value : ''",
                "gridOpacity": {"condition": {"test": "datum.value % 1 === 0", "value": 1}, "value": 0},
                "tickSize": {"condition": {"test": "datum.value % 1 === 0", "value": -7}, "value": -4},
                "labelPadding": 18, "titlePadding": 6, "titleAnchor": "end"}},
            "y": {"field": "d", "type": "quantitative", "title": "Depth, m", "scale": {"domain": [0, 10], "reverse": true, "nice": false, "zero": false},
              "axis": {"labelOverlap": false, "tickCount": 1000, "values": [0,0.2,0.4,0.6,0.8,1,1.2,1.4,1.6,1.8,2,2.2,2.4,2.6,2.8,3,3.2,3.4,3.6,3.8,4,4.2,4.4,4.6,4.8,5,5.2,5.4,5.6,5.8,6,6.2,6.4,6.6,6.8,7,7.2,7.4,7.6,7.8,8,8.2,8.4,8.6,8.8,9,9.2,9.4,9.6,9.8,10],
                "labelExpr": "datum.value % 1 === 0 ? '' + datum.value : ''",
                "gridOpacity": {"condition": {"test": "datum.value % 1 === 0", "value": 1}, "value": 0},
                "tickSize": {"condition": {"test": "datum.value % 1 === 0", "value": -7}, "value": -4},
                "labelPadding": 21, "titlePadding": 3}},
            "detail": {"field": "p"}, "order": {"field": "i", "type": "quantitative"}}},
          {"data": {"name": "qt"}, "transform": [{"filter": "datum.c === 'LE'"}, {"window": [{"op": "row_number", "as": "i"}]}], "mark": {"type": "line", "color": "#2f4fbf", "strokeWidth": 2.2, "strokeDash": [6, 5]},
           "encoding": {"x": {"field": "x", "type": "quantitative", "title": "Cor. cone resistance (qₜ), MPa", "scale": {"domain": [0, 6], "nice": false, "zero": false}}, "y": {"field": "d", "type": "quantitative", "title": "Depth, m", "scale": {"domain": [0, 10], "reverse": true, "nice": false, "zero": false}}, "order": {"field": "i", "type": "quantitative"}}},
          {"data": {"name": "qt"}, "transform": [{"filter": "datum.c === 'HE'"}, {"window": [{"op": "row_number", "as": "i"}]}], "mark": {"type": "line", "color": "#ff1a1a", "strokeWidth": 2.2, "strokeDash": [6, 5]},
           "encoding": {"x": {"field": "x", "type": "quantitative", "title": "Cor. cone resistance (qₜ), MPa", "scale": {"domain": [0, 6], "nice": false, "zero": false}}, "y": {"field": "d", "type": "quantitative", "title": "Depth, m", "scale": {"domain": [0, 10], "reverse": true, "nice": false, "zero": false}}, "order": {"field": "i", "type": "quantitative"}}},
          {"data": {"name": "qt"}, "transform": [{"filter": "datum.c === 'BE'"}, {"window": [{"op": "row_number", "as": "i"}]}], "mark": {"type": "line", "color": "#000000", "strokeWidth": 3},
           "encoding": {"x": {"field": "x", "type": "quantitative", "title": "Cor. cone resistance (qₜ), MPa", "scale": {"domain": [0, 6], "nice": false, "zero": false}}, "y": {"field": "d", "type": "quantitative", "title": "Depth, m", "scale": {"domain": [0, 10], "reverse": true, "nice": false, "zero": false}}, "order": {"field": "i", "type": "quantitative"}}},
          {"data": {"values": [{}]}, "mark": {"type": "rect", "fill": "white", "stroke": "#333333", "strokeWidth": 1.3}, "encoding": {"x": {"datum": 0.13}, "x2": {"datum": 2.87}, "y": {"datum": 8.53}, "y2": {"datum": 9.97}}},
          {"data": {"values": [{}]}, "mark": {"type": "rule", "color": "#7f7f7f", "strokeWidth": 1.5}, "encoding": {"x": {"datum": 0.37}, "x2": {"datum": 1.03}, "y": {"datum": 8.8}}},
          {"data": {"values": [{}]}, "mark": {"type": "rule", "color": "#000000", "strokeWidth": 3.5}, "encoding": {"x": {"datum": 0.37}, "x2": {"datum": 1.03}, "y": {"datum": 9.1}}},
          {"data": {"values": [{}]}, "mark": {"type": "rule", "color": "#ff1a1a", "strokeWidth": 2.2, "strokeDash": [5, 5]}, "encoding": {"x": {"datum": 0.37}, "x2": {"datum": 1.03}, "y": {"datum": 9.4}}},
          {"data": {"values": [{}]}, "mark": {"type": "rule", "color": "#2f4fbf", "strokeWidth": 2.2, "strokeDash": [5, 5]}, "encoding": {"x": {"datum": 0.37}, "x2": {"datum": 1.03}, "y": {"datum": 9.69}}},
          {"data": {"values": [{}]}, "mark": {"type": "text", "text": "CPT data", "font": "Lato", "fontSize": 12, "align": "left", "baseline": "middle", "color": "#111"}, "encoding": {"x": {"datum": 1.25}, "y": {"datum": 8.8}}},
          {"data": {"values": [{}]}, "mark": {"type": "text", "text": "BE (μ)", "font": "Lato", "fontSize": 12, "align": "left", "baseline": "middle", "color": "#111"}, "encoding": {"x": {"datum": 1.25}, "y": {"datum": 9.1}}},
          {"data": {"values": [{}]}, "mark": {"type": "text", "text": "HE (μ+σ)", "font": "Lato", "fontSize": 12, "align": "left", "baseline": "middle", "color": "#111"}, "encoding": {"x": {"datum": 1.25}, "y": {"datum": 9.4}}},
          {"data": {"values": [{}]}, "mark": {"type": "text", "text": "LE (μ-σ)", "font": "Lato", "fontSize": 12, "align": "left", "baseline": "middle", "color": "#111"}, "encoding": {"x": {"datum": 1.25}, "y": {"datum": 9.69}}}
        ]
      },
      {
        "width": 180, "height": 487,
        "layer": [
          {"data": {"name": "suband"}, "mark": {"type": "area", "orient": "horizontal", "color": "#cbcbcb", "opacity": 0.9},
           "encoding": {
            "x": {"field": "x", "type": "quantitative", "title": "Undr. shear strength (sᵤ), kPa", "scale": {"domain": [0, 200], "nice": false, "zero": false},
              "axis": {"orient": "top", "labelOverlap": false, "tickCount": 1000, "values": [0,10,20,30,40,50,60,70,80,90,100,110,120,130,140,150,160,170,180,190,200],
                "labelExpr": "datum.value % 40 === 0 ? '' + datum.value : ''",
                "gridOpacity": {"condition": {"test": "datum.value % 40 === 0", "value": 1}, "value": 0},
                "tickSize": {"condition": {"test": "datum.value % 40 === 0", "value": -7}, "value": -4},
                "labelPadding": 18, "titlePadding": 6}},
            "x2": {"field": "x2"},
            "y": {"field": "d", "type": "quantitative", "title": null, "scale": {"domain": [0, 10], "reverse": true, "nice": false, "zero": false},
              "axis": {"labelOverlap": false, "tickCount": 1000, "values": [0,0.2,0.4,0.6,0.8,1,1.2,1.4,1.6,1.8,2,2.2,2.4,2.6,2.8,3,3.2,3.4,3.6,3.8,4,4.2,4.4,4.6,4.8,5,5.2,5.4,5.6,5.8,6,6.2,6.4,6.6,6.8,7,7.2,7.4,7.6,7.8,8,8.2,8.4,8.6,8.8,9,9.2,9.4,9.6,9.8,10],
                "labelExpr": "datum.value % 1 === 0 ? '' + datum.value : ''",
                "gridOpacity": {"condition": {"test": "datum.value % 1 === 0", "value": 1}, "value": 0},
                "tickSize": {"condition": {"test": "datum.value % 1 === 0", "value": -7}, "value": -4},
                "labelPadding": 20}}}},
          {"data": {"name": "lab"}, "mark": {"type": "point", "filled": true, "opacity": 1, "size": 45},
           "encoding": {
             "x": {"field": "x", "type": "quantitative", "scale": {"domain": [0, 200], "nice": false, "zero": false}},
             "y": {"field": "d", "type": "quantitative", "scale": {"domain": [0, 10], "reverse": true, "nice": false, "zero": false}},
             "shape": {"field": "t", "type": "nominal", "legend": null, "scale": {"domain": ["PP", "TV", "UU"], "range": ["triangle-down", "triangle-up", "circle"]}},
             "color": {"field": "t", "type": "nominal", "legend": null, "scale": {"domain": ["PP", "TV", "UU"], "range": ["#a6a6a6", "#a6a6a6", "#000000"]}}}},
          {"data": {"name": "su"}, "transform": [{"filter": "datum.c === 'BE'"}, {"window": [{"op": "row_number", "as": "i"}]}], "mark": {"type": "line", "color": "#000000", "strokeWidth": 3.5},
           "encoding": {"x": {"field": "x", "type": "quantitative", "scale": {"domain": [0, 200], "nice": false, "zero": false}}, "y": {"field": "d", "type": "quantitative", "scale": {"domain": [0, 10], "reverse": true, "nice": false, "zero": false}}, "order": {"field": "i", "type": "quantitative"}}},
          {"data": {"name": "su"}, "transform": [{"filter": "datum.c === 'LE'"}, {"window": [{"op": "row_number", "as": "i"}]}], "mark": {"type": "line", "color": "#2f4fbf", "strokeWidth": 2, "strokeDash": [5, 5]},
           "encoding": {"x": {"field": "x", "type": "quantitative", "scale": {"domain": [0, 200], "nice": false, "zero": false}}, "y": {"field": "d", "type": "quantitative", "scale": {"domain": [0, 10], "reverse": true, "nice": false, "zero": false}}, "order": {"field": "i", "type": "quantitative"}}},
          {"data": {"name": "su"}, "transform": [{"filter": "datum.c === 'HE'"}, {"window": [{"op": "row_number", "as": "i"}]}], "mark": {"type": "line", "color": "#ff1a1a", "strokeWidth": 2, "strokeDash": [5, 5]},
           "encoding": {"x": {"field": "x", "type": "quantitative", "scale": {"domain": [0, 200], "nice": false, "zero": false}}, "y": {"field": "d", "type": "quantitative", "scale": {"domain": [0, 10], "reverse": true, "nice": false, "zero": false}}, "order": {"field": "i", "type": "quantitative"}}},
          {"data": {"values": [{}]}, "mark": {"type": "rect", "fill": "white", "stroke": "#333333", "strokeWidth": 1.3}, "encoding": {"x": {"datum": 100.7}, "x2": {"datum": 195.5}, "y": {"datum": 0.12}, "y2": {"datum": 0.77}}},
          {"data": {"values": [{}]}, "mark": {"type": "point", "shape": "triangle-down", "filled": true, "color": "#a6a6a6", "opacity": 1, "size": 45}, "encoding": {"x": {"datum": 111}, "y": {"datum": 0.26}}},
          {"data": {"values": [{}]}, "mark": {"type": "point", "shape": "circle", "filled": true, "color": "#000000", "opacity": 1, "size": 55}, "encoding": {"x": {"datum": 157.4}, "y": {"datum": 0.26}}},
          {"data": {"values": [{}]}, "mark": {"type": "point", "shape": "triangle-up", "filled": true, "color": "#a6a6a6", "opacity": 1, "size": 45}, "encoding": {"x": {"datum": 111}, "y": {"datum": 0.58}}},
          {"data": {"values": [{}]}, "mark": {"type": "text", "text": "PP", "font": "Lato", "fontSize": 12, "align": "left", "baseline": "middle", "color": "#111"}, "encoding": {"x": {"datum": 124}, "y": {"datum": 0.26}}},
          {"data": {"values": [{}]}, "mark": {"type": "text", "text": "UU", "font": "Lato", "fontSize": 12, "align": "left", "baseline": "middle", "color": "#111"}, "encoding": {"x": {"datum": 174}, "y": {"datum": 0.26}}},
          {"data": {"values": [{}]}, "mark": {"type": "text", "text": "TV", "font": "Lato", "fontSize": 12, "align": "left", "baseline": "middle", "color": "#111"}, "encoding": {"x": {"datum": 124}, "y": {"datum": 0.58}}},
          {"data": {"values": [{}]}, "mark": {"type": "rect", "fill": "white", "stroke": "#333333", "strokeWidth": 1.3}, "encoding": {"x": {"datum": 100.7}, "x2": {"datum": 195.5}, "y": {"datum": 0.88}, "y2": {"datum": 1.38}}},
          {"data": {"values": [{}]}, "mark": {"type": "text", "text": "BE qₜ, Nₖₜ* = 19.5", "font": "Lato", "fontSize": 11, "fontWeight": "bold", "align": "center", "baseline": "middle", "color": "#111"}, "encoding": {"x": {"datum": 148}, "y": {"datum": 1.13}}},
          {"data": {"values": [{}]}, "mark": {"type": "text", "text": "N", "font": "Lato", "fontSize": 15, "fontWeight": "bold", "align": "left", "baseline": "middle", "color": "#8c8c8c"}, "encoding": {"x": {"datum": 30}, "y": {"datum": 9.39}}},
          {"data": {"values": [{}]}, "mark": {"type": "text", "text": "kt,BE", "font": "Lato", "fontSize": 8.5, "fontWeight": "bold", "align": "left", "baseline": "middle", "color": "#8c8c8c", "dx": 11, "dy": 4}, "encoding": {"x": {"datum": 30}, "y": {"datum": 9.39}}},
          {"data": {"values": [{}]}, "mark": {"type": "text", "text": "*", "font": "Lato", "fontSize": 10, "fontWeight": "bold", "align": "left", "baseline": "middle", "color": "#8c8c8c", "dx": 33, "dy": -4}, "encoding": {"x": {"datum": 30}, "y": {"datum": 9.39}}},
          {"data": {"values": [{}]}, "mark": {"type": "text", "text": "± 10 %", "font": "Lato", "fontSize": 15, "fontWeight": "bold", "align": "left", "baseline": "middle", "color": "#8c8c8c", "dx": 39}, "encoding": {"x": {"datum": 30}, "y": {"datum": 9.39}}}
        ]
      }
    ]
  }
]
}
